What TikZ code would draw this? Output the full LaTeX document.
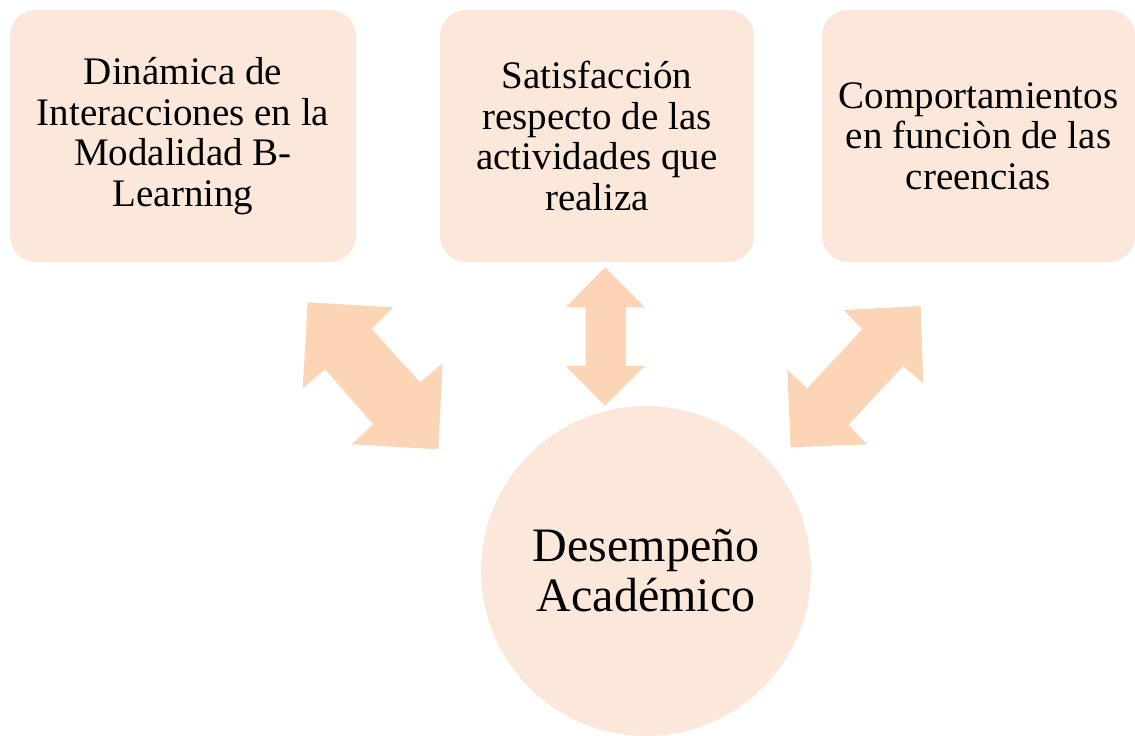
\documentclass[tikz,border=0pt]{standalone}
\usepackage{fontspec}
\setmainfont{Liberation Serif}
\definecolor{boxfill}{HTML}{FCE8DA}
\definecolor{arrowfill}{HTML}{FBD5B5}
\begin{document}
\begin{tikzpicture}[x=1pt,y=-1pt,
  box/.style={fill=boxfill, draw=none, rounded corners=26pt, align=center,
    font=\fontsize{39}{40.5}\selectfont, inner sep=0pt},
  bigarrow/.style={fill=arrowfill, draw=none}]
\useasboundingbox (0,0) rectangle (1135,736);
\node[box, minimum width=346pt, minimum height=252pt] (b1) at (183,136)
  {Dinámica de\\Interacciones en la\\Modalidad B-\\Learning};
\node[box, minimum width=314pt, minimum height=252pt] (b2) at (597,136)
  {Satisfacción\\respecto de las\\actividades que\\realiza};
\node[box, minimum width=313pt, minimum height=252pt] (b3) at (978.5,136)
  {Comportamientos\\en funciòn de las\\creencias};
\node[circle, fill=boxfill, minimum size=330pt, inner sep=0pt, align=center,
  font=\fontsize{48}{50}\selectfont] (c) at (646,571) {Desempeño\\Académico};
% left double arrow
\fill[bigarrow] (307.7,302.3) -- (393.3,307.3) -- (371.7,329) -- (420,382.3)
  -- (442.7,363.3) -- (438.3,449.3) -- (351.7,444.3) -- (373.3,424.3)
  -- (325,369.3) -- (302.7,388.3) -- cycle;
% middle double arrow
\fill[bigarrow] (605,267.3) -- (645,307.3) -- (626,307.3) -- (626,366)
  -- (645,366) -- (605,405.7) -- (565.7,366) -- (585.7,366)
  -- (585.7,307.3) -- (565.7,307.3) -- cycle;
% right double arrow
\fill[bigarrow] (920.7,306) -- (923.3,383.3) -- (903.3,366) -- (848.3,425)
  -- (867.3,444.3) -- (790.7,447.3) -- (787.3,370) -- (807.3,388.3)
  -- (862.3,329.3) -- (844,310) -- cycle;
\end{tikzpicture}
\end{document}
